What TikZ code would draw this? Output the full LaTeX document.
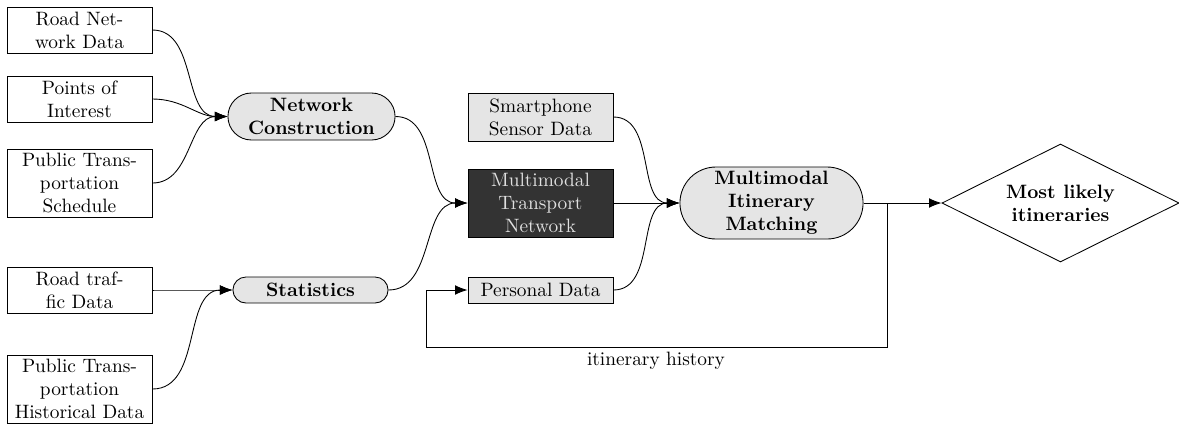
\documentclass[tikz,border=0pt]{standalone}
\usetikzlibrary{shapes.misc,shapes.geometric,arrows.meta}
\begin{document}
\begin{tikzpicture}[x=0.517pt,y=-0.517pt,
  box/.style={draw, rectangle, align=center, minimum width=145*0.517pt, inner sep=1pt, line width=0.45pt},
  gbox/.style={box, fill=black!10},
  dbox/.style={box, fill=black!80, text=black!12},
  proc/.style={draw, rounded rectangle, align=center, fill=black!10, font=\bfseries, inner sep=1pt, line width=0.45pt},
  arr/.style={-{Latex[length=6.5pt,width=5pt]}, line width=0.45pt},
  ln/.style={line width=0.45pt}]
\useasboundingbox (0,0) rectangle (1179,424);
% inputs
\node[box, minimum height=46*0.517pt] (rnd) at (79.5,30) {Road Net-\\work Data};
\node[box, minimum height=46*0.517pt] (poi) at (79.5,99) {Points of\\Interest};
\node[box, minimum height=68*0.517pt] (pts) at (79.5,183) {Public Trans-\\portation\\Schedule};
\node[box, minimum height=46*0.517pt] (rtd) at (79.5,290) {Road traf-\\fic Data};
\node[box, minimum height=68*0.517pt] (pth) at (79.5,389) {Public Trans-\\portation\\Historical Data};
% processes
\node[proc, minimum width=171*0.517pt, minimum height=47*0.517pt] (nc) at (311.5,116.5) {Network\\Construction};
\node[proc, minimum width=159*0.517pt, minimum height=26*0.517pt] (stat) at (310.5,290) {Statistics};
% middle column
\node[gbox, minimum height=48*0.517pt] (ssd) at (540.5,117) {Smartphone\\Sensor Data};
\node[dbox, minimum height=68*0.517pt] (mtn) at (540.5,203) {Multimodal\\Transport\\Network};
\node[gbox, minimum height=26*0.517pt] (pd) at (540.5,290) {Personal Data};
% matching
\node[proc, minimum width=187*0.517pt, minimum height=72*0.517pt] (mim) at (771.5,203) {Multimodal\\Itinerary\\Matching};
\node[draw, diamond, aspect=2, align=center, font=\bfseries, minimum width=237*0.517pt, minimum height=118*0.517pt, inner sep=0pt, line width=0.45pt] (mli) at (1060.5,203) {Most likely\\itineraries};
% connectors
\draw[arr] (rnd.east) to[out=0,in=180] (nc.west);
\draw[arr] (poi.east) to[out=0,in=180] (nc.west);
\draw[arr] (pts.east) to[out=0,in=180] (nc.west);
\draw[arr] (rtd.east) to[out=0,in=180] (stat.west);
\draw[arr] (pth.east) to[out=0,in=180] (stat.west);
\draw[arr] (nc.east) to[out=0,in=180] (mtn.west);
\draw[arr] (stat.east) to[out=0,in=180] (mtn.west);
\draw[arr] (ssd.east) to[out=0,in=180] (mim.west);
\draw[arr] (mtn.east) -- (mim.west);
\draw[arr] (pd.east) to[out=0,in=180] (mim.west);
\draw[arr] (mim.east) -- (mli.west);
\coordinate (br) at (887,203);
\coordinate (b1) at (887,347);
\coordinate (b2) at (426,347);
\draw[arr] (br) -- (b1) -- (b2) |- (pd.west);
\node (lbl) at (656,361) {itinerary history};
\end{tikzpicture}
\end{document}
